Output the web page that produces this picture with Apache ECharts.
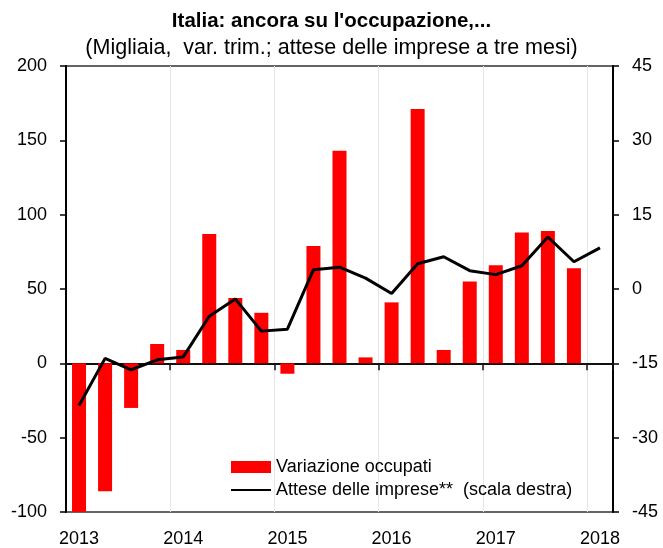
<!DOCTYPE html>
<html>
<head>
<meta charset="utf-8">
<script src="https://cdn.jsdelivr.net/npm/echarts@6/dist/echarts.min.js"></script>
<style>
html,body{margin:0;padding:0;background:#fff;}
#chart{width:663px;height:548px;}
</style>
</head>
<body>
<div id="chart"></div>
<script>
// Quarters 2013Q1 .. 2018Q1
const categories = ['2013Q1','2013Q2','2013Q3','2013Q4','2014Q1','2014Q2','2014Q3','2014Q4',
  '2015Q1','2015Q2','2015Q3','2015Q4','2016Q1','2016Q2','2016Q3','2016Q4',
  '2017Q1','2017Q2','2017Q3','2017Q4','2018Q1'];
// Variazione occupati (migliaia, left axis)
const occupati = [-100, -86, -30, 13, 9, 87, 44, 34, -7, 79, 143, 4, 41, 171, 9, 55, 66, 88, 89, 64, null];
// Attese delle imprese (right axis)
const attese = [-23.5, -14, -16.3, -14.3, -13.7, -5.5, -2.0, -8.5, -8.1, 3.9, 4.4, 2.2, -0.9, 5.1, 6.5, 3.7, 2.9, 4.7, 10.5, 5.5, 8.3];
const leftTicks = {min: -100, max: 200, interval: 50};
const rightTicks = {min: -45, max: 45, interval: 15};
const titleText = "Italia: ancora su l'occupazione,...";
const subtitleText = "(Migliaia,  var. trim.; attese delle imprese a tre mesi)";
const seriesNames = ['Variazione occupati', 'Attese delle imprese**  (scala destra)'];

const FONT = '"Liberation Sans", Arial, sans-serif';
const chart = echarts.init(document.getElementById('chart'), null, {renderer: 'canvas'});
chart.setOption({
  animation: false,
  backgroundColor: '#fff',
  textStyle: {fontFamily: FONT},
  title: [
    {text: titleText, left: 'center', top: 6,
     textStyle: {fontFamily: FONT, fontSize: 20.5, fontWeight: 'bold', color: '#000'}},
    {text: subtitleText, left: 'center', top: 32,
     textStyle: {fontFamily: FONT, fontSize: 21.5, fontWeight: 'normal', color: '#000'}}
  ],
  legend: {
    orient: 'vertical', left: 230, top: 458, padding: 0,
    itemWidth: 40, itemHeight: 12, itemGap: 5,
    textStyle: {fontFamily: FONT, fontSize: 18, color: '#000'},
    data: [{name: seriesNames[0], icon: 'rect'},
           {name: seriesNames[1], itemStyle: {opacity: 0}}]
  },
  grid: {left: 66, right: 50, top: 66, bottom: 32, show: true, borderColor: '#333', borderWidth: 1.5, containLabel: false},
  xAxis: [
    {type: 'category', data: categories, position: 'bottom',
     axisLine: {show: true, onZero: true, lineStyle: {color: '#111', width: 2}},
     axisTick: {show: true, interval: 3, length: 7, lineStyle: {color: '#111', width: 1.5}},
     axisLabel: {show: false},
     splitLine: {show: true, interval: 3, lineStyle: {color: '#e6e6e6', width: 1}}},
    {type: 'category', data: categories, position: 'bottom',
     axisLine: {show: false, onZero: false},
     axisTick: {show: false},
     axisLabel: {show: true, interval: 3, margin: 18, fontSize: 18, color: '#000', fontFamily: FONT,
       formatter: v => v.slice(0, 4)},
     splitLine: {show: false}}
  ],
  yAxis: [
    {type: 'value', position: 'left', min: leftTicks.min, max: leftTicks.max, interval: leftTicks.interval,
     axisLine: {show: true, onZero: false, lineStyle: {color: '#000', width: 2}},
     axisTick: {show: true, length: 6, lineStyle: {color: '#000', width: 1.5}},
     axisLabel: {fontSize: 18, color: '#000', margin: 19, fontFamily: FONT},
     splitLine: {show: false}},
    {type: 'value', position: 'right', min: rightTicks.min, max: rightTicks.max, interval: rightTicks.interval,
     axisLine: {show: true, onZero: false, lineStyle: {color: '#000', width: 2}},
     axisTick: {show: true, length: 6, lineStyle: {color: '#000', width: 1.5}},
     axisLabel: {fontSize: 18, color: '#000', margin: 19, fontFamily: FONT},
     splitLine: {show: false}}
  ],
  series: [
    {name: seriesNames[0], type: 'bar', xAxisIndex: 0, yAxisIndex: 0, data: occupati,
     barWidth: 14, itemStyle: {color: '#ff0000'}, z: 2},
    {name: seriesNames[1], type: 'line', xAxisIndex: 0, yAxisIndex: 1, data: attese,
     symbol: 'none', lineStyle: {color: '#000', width: 3}, itemStyle: {color: '#000'}, z: 3}
  ]
});
</script>
</body>
</html>
